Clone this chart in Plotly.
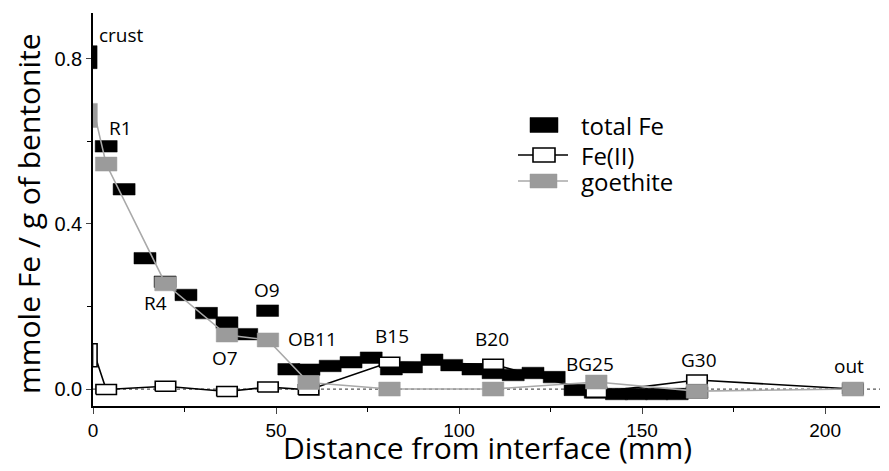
import plotly.graph_objects as go

# ---------------- data ----------------
# total Fe profile (slices), distance in mm, mmole Fe / g bentonite
total_fe_x = [0.5, 3.6, 8.5, 14.2, 19.7, 25.4, 31.0, 36.6, 42.0, 47.7, 53.5, 59.0,
              64.8, 70.5, 76.0, 81.5, 87.0, 92.6, 98.0, 103.8, 109.3, 114.8, 120.2,
              126.0, 131.7, 137.2, 143.0, 148.4, 154.0, 159.6, 165.0]
total_fe = [0.804, 0.588, 0.484, 0.317, 0.26, 0.228, 0.184, 0.161, 0.133, 0.19, 0.048, 0.047,
            0.056, 0.065, 0.076, 0.048, 0.053, 0.071, 0.058, 0.048, 0.039, 0.034, 0.039,
            0.029, -0.002, -0.008, -0.012, -0.012, -0.012, -0.012, -0.008]

# sampled positions for Fe(II) and goethite
sample_names = ["crust", "R1", "R4", "O7", "O9", "OB11", "B15", "B20", "BG25", "G30", "out"]
sample_x = [0.5, 3.6, 19.8, 36.6, 47.8, 58.9, 81.0, 109.3, 137.5, 165.0, 207.6]
fe2 = [0.082, -0.001, 0.007, -0.006, 0.005, -0.002, 0.065, 0.060, -0.008, 0.022, 0.0]
goethite = [0.663, 0.545, 0.255, 0.131, 0.119, 0.016, 0.0, 0.0, 0.017, -0.005, 0.0]

# sample label anchor points (data coordinates)
label_x = [1.1, 7.6, 17.2, 36.0, 47.5, 60.0, 81.6, 108.9, 135.9, 165.6, 206.5]
label_y = [0.857, 0.632, 0.208, 0.075, 0.240, 0.121, 0.128, 0.121, 0.060, 0.070, 0.055]

x_ticks = [0, 50, 100, 150, 200]
y_ticks = [0.0, 0.4, 0.8]
y_tick_text = ["0.0", "0.4", "0.8"]

# ---------------- layout geometry / style ----------------
OFF = 8                      # default page body margin
W, H = 889 - OFF, 471 - OFF
ML, MR, MT, MB = 85, 9, 5, 65
X_RANGE = [0, 215]
Y_RANGE = [-0.041, 0.911]
plot_w = W - ML - MR
plot_h = H - MT - MB
ppx_x = plot_w / (X_RANGE[1] - X_RANGE[0])   # px per mm
ppx_y = plot_h / (Y_RANGE[1] - Y_RANGE[0])   # px per unit

BLACK = "#000000"
GREY = "#9b9b9b"
GREY_LINE = "#a9a9a9"
FONT = "Open Sans, Noto Sans, sans-serif"


def rects(xs, ys, w_px, h_px, w_iface_px, h_iface_px):
    """Closed rectangle outlines, None-separated, sized in pixels."""
    px, py = [], []
    for x, y in zip(xs, ys):
        if x < 1.0:  # interface slice: narrow and tall
            hw, hh = w_iface_px / 2 / ppx_x, h_iface_px / 2 / ppx_y
        else:
            hw, hh = w_px / 2 / ppx_x, h_px / 2 / ppx_y
        px += [x - hw, x + hw, x + hw, x - hw, x - hw, None]
        py += [y - hh, y - hh, y + hh, y + hh, y - hh, None]
    return px, py


def pxp(px):   # page pixel -> paper x
    return (px - OFF - ML) / plot_w


def pyp(py):   # page pixel -> paper y
    return (H - MB - (py - OFF)) / plot_h


fig = go.Figure()

# zero reference line (dotted)
fig.add_shape(type="line", xref="x", yref="y", x0=X_RANGE[0], x1=X_RANGE[1], y0=0, y1=0,
              line=dict(color="#555555", width=1.2, dash="dot"), layer="below")

# total Fe rectangles
rx, ry = rects(total_fe_x, total_fe, 22, 11.5, 4.5, 23)
fig.add_trace(go.Scatter(x=rx, y=ry, mode="lines", fill="toself", fillcolor=BLACK,
                         line=dict(color=BLACK, width=0.5), hoverinfo="skip", showlegend=False))

# Fe(II) connecting line + hollow rectangles
fig.add_trace(go.Scatter(x=sample_x, y=fe2, mode="lines", line=dict(color=BLACK, width=1.6),
                         showlegend=False))
rx, ry = rects(sample_x, fe2, 20.5, 10, 4.5, 23)
fig.add_trace(go.Scatter(x=rx, y=ry, mode="lines", fill="toself", fillcolor="white",
                         line=dict(color=BLACK, width=1.6), hoverinfo="skip", showlegend=False))

# goethite connecting line + grey rectangles
fig.add_trace(go.Scatter(x=sample_x, y=goethite, mode="lines", line=dict(color=GREY_LINE, width=1.6),
                         showlegend=False))
rx, ry = rects(sample_x, goethite, 21.5, 14, 5, 24)
fig.add_trace(go.Scatter(x=rx, y=ry, mode="lines", fill="toself", fillcolor=GREY,
                         line=dict(color=GREY, width=0.5), hoverinfo="skip", showlegend=False))

# sample labels
for name, lx, ly in zip(sample_names, label_x, label_y):
    fig.add_annotation(x=lx, y=ly, xref="x", yref="y", text=name, showarrow=False,
                       xanchor="left" if name == "crust" else "center", yanchor="middle",
                       font=dict(family=FONT, size=19, color=BLACK))

# custom legend
legend_items = [("total Fe", 125), ("Fe(II)", 155), ("goethite", 181)]
for i, (txt, cy) in enumerate(legend_items):
    if i == 1:
        fig.add_shape(type="line", xref="paper", yref="paper", x0=pxp(518), x1=pxp(568),
                      y0=pyp(cy), y1=pyp(cy), line=dict(color=BLACK, width=1.6))
        fig.add_shape(type="rect", xref="paper", yref="paper", x0=pxp(533), x1=pxp(555),
                      y0=pyp(cy + 7), y1=pyp(cy - 7), line=dict(color=BLACK, width=1.6),
                      fillcolor="white")
    elif i == 2:
        fig.add_shape(type="line", xref="paper", yref="paper", x0=pxp(518), x1=pxp(568),
                      y0=pyp(cy), y1=pyp(cy), line=dict(color=GREY_LINE, width=1.6))
        fig.add_shape(type="rect", xref="paper", yref="paper", x0=pxp(530), x1=pxp(557),
                      y0=pyp(cy + 7), y1=pyp(cy - 7), line=dict(color=GREY, width=0.5),
                      fillcolor=GREY)
    else:
        fig.add_shape(type="rect", xref="paper", yref="paper", x0=pxp(530), x1=pxp(558),
                      y0=pyp(cy + 7.5), y1=pyp(cy - 7.5), line=dict(color=BLACK, width=0.5),
                      fillcolor=BLACK)
    fig.add_annotation(x=pxp(579), y=pyp(cy), xref="paper", yref="paper", text=txt,
                       showarrow=False, xanchor="left", yanchor="middle",
                       font=dict(family=FONT, size=24, color=BLACK))

# axis titles
fig.add_annotation(x=pxp(487), y=pyp(447), xref="paper", yref="paper",
                   text="Distance from interface (mm)", showarrow=False,
                   xanchor="center", yanchor="middle",
                   font=dict(family=FONT, size=30, color=BLACK))
fig.add_annotation(x=pxp(28), y=pyp(214), xref="paper", yref="paper",
                   text="mmole Fe / g of bentonite", showarrow=False, textangle=-90,
                   xanchor="center", yanchor="middle",
                   font=dict(family=FONT, size=30, color=BLACK))

fig.update_layout(
    width=W, height=H,
    margin=dict(l=ML, r=MR, t=MT, b=MB, autoexpand=False),
    paper_bgcolor="white", plot_bgcolor="white",
    showlegend=False,
    xaxis=dict(range=X_RANGE, tickvals=x_ticks, ticks="outside", ticklen=6, tickwidth=1.2,
               showline=True, linecolor=BLACK, linewidth=1.5, showgrid=False, zeroline=False,
               automargin=False,
               tickfont=dict(family="Liberation Sans, Arial", size=19, color=BLACK),
               minor=dict(dtick=25, ticks="outside", ticklen=4, tickwidth=1, tickcolor=BLACK)),
    yaxis=dict(range=Y_RANGE, tickvals=y_ticks, ticktext=y_tick_text, ticks="outside",
               ticklen=5, tickwidth=1.2, showline=True, linecolor=BLACK, linewidth=1.5,
               showgrid=False, zeroline=False, automargin=False,
               tickfont=dict(family="Liberation Sans, Arial", size=20, color=BLACK),
               minor=dict(dtick=0.2, tick0=0, ticks="outside", ticklen=4, tickwidth=1,
                          tickcolor=BLACK)),
)

fig.write_html("out.html")
